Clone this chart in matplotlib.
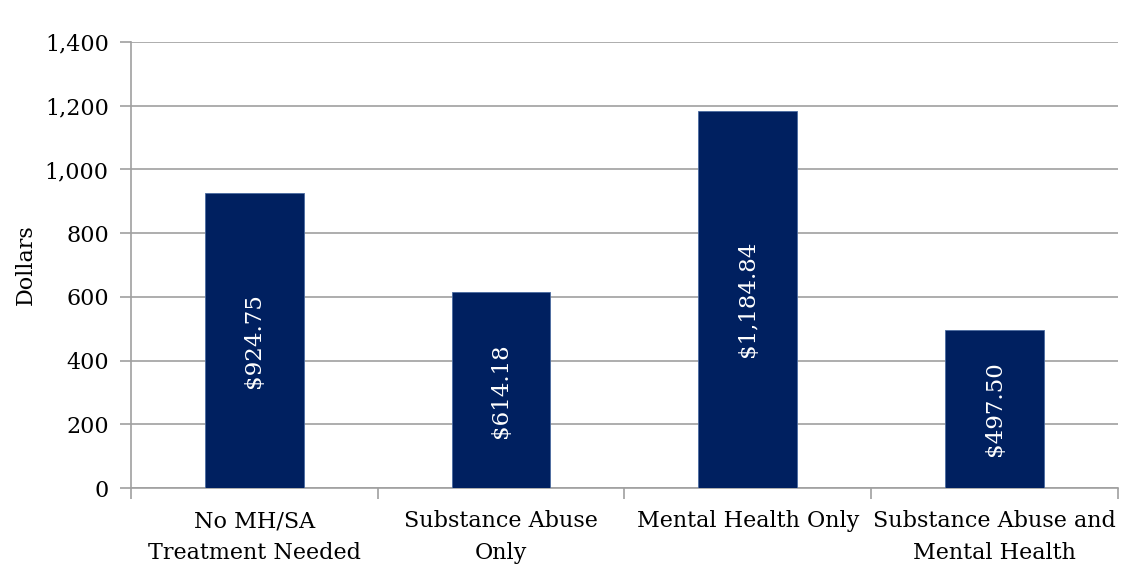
import matplotlib
matplotlib.use("Agg")
import matplotlib.pyplot as plt
from matplotlib.ticker import FuncFormatter, FixedLocator
import numpy as np

categories = ["No MH/SA\nTreatment Needed", "Substance Abuse\nOnly",
              "Mental Health Only", "Substance Abuse and\nMental Health"]
values = [924.75, 614.18, 1184.84, 497.50]
yticks = [0, 200, 400, 600, 800, 1000, 1200, 1400]

plt.rcParams["font.family"] = "DejaVu Serif"
fs = 16

fig = plt.figure(figsize=(11.37, 5.77), dpi=100)
ax = fig.add_axes([0.1152, 0.1542, 0.868, 0.773])

x = np.arange(len(categories))
ax.bar(x, values, width=0.4, color="#002060", edgecolor="#4a6aa0", linewidth=0.6, zorder=3)

# value labels inside the bars, rotated
for xi, v in zip(x, values):
    ax.text(xi, v / 2, f"${v:,.2f}", rotation=90, ha="center", va="center",
            color="white", fontsize=fs + 0.5, zorder=4)

ax.set_xlim(-0.5, len(categories) - 0.5)
ax.set_ylim(0, 1400)
ax.set_yticks(yticks)
ax.yaxis.set_major_formatter(FuncFormatter(lambda v, p: f"{v:,.0f}"))
ax.grid(axis="y", color="#a0a0a0", linewidth=1.2, zorder=0)

# category labels centred, tick marks at category boundaries
ax.set_xticks(x)
ax.set_xticklabels(categories, fontsize=fs, linespacing=1.55)
ax.tick_params(axis="x", which="major", length=0, pad=16)
ax.xaxis.set_minor_locator(FixedLocator(np.arange(-0.5, len(categories), 1.0)))
ax.tick_params(axis="x", which="minor", length=8, width=1.2, color="#a0a0a0")
ax.tick_params(axis="y", length=8, width=1.2, color="#a0a0a0", labelsize=fs, pad=8)

for side in ["top", "right"]:
    ax.spines[side].set_visible(False)
for side in ["left", "bottom"]:
    ax.spines[side].set_color("#a0a0a0")
    ax.spines[side].set_linewidth(1.2)

ax.set_ylabel("Dollars", fontsize=fs, labelpad=6)

fig.savefig("out.png", dpi=100)
